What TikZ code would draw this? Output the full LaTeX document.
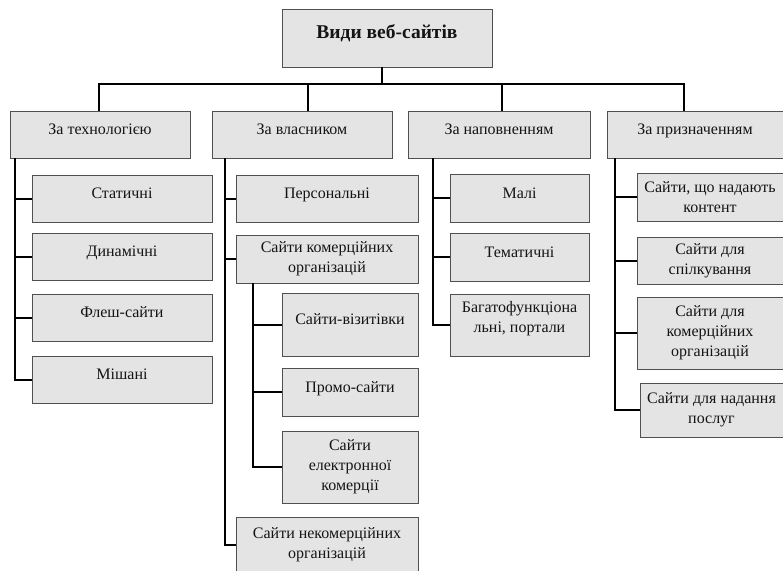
\documentclass[tikz,border=0pt]{standalone}
\usepackage{fontspec}
\setmainfont{Liberation Serif}
\usetikzlibrary{shadows}
\definecolor{boxfill}{RGB}{228,228,228}
\definecolor{boxline}{RGB}{80,80,80}
\definecolor{shadowc}{RGB}{105,105,105}
\definecolor{txt}{RGB}{20,20,20}
\tikzset{
  box/.style={draw=boxline, line width=0.8pt, fill=boxfill, rectangle, inner sep=2pt,
    align=center, text=txt, font=\fontsize{16}{20}\selectfont,
    drop shadow={shadow xshift=1.3pt, shadow yshift=-1.3pt, fill=shadowc, opacity=1}},
  one/.style={text height=10pt, text depth=10pt},
  conn/.style={draw=black, line width=2pt, line join=miter},
}
\begin{document}
\begin{tikzpicture}[x=1pt,y=-1pt]
\useasboundingbox[fill=white] (0,0) rectangle (783,570);
% root
\node[box, one, minimum width=210pt, minimum height=58pt, font=\fontsize{19.5}{23}\selectfont\bfseries] (root) at (387,38) {Види веб-сайтів};
% level 1
\node[box, one, minimum width=180pt, minimum height=47pt] (b1) at (100,134.5) {За технологією};
\node[box, one, minimum width=180pt, minimum height=47pt] (b2) at (302,134.5) {За власником};
\node[box, one, minimum width=182pt, minimum height=47pt] (b3) at (499,134.5) {За наповненням};
\node[box, one, minimum width=176pt, minimum height=47pt] (b4) at (695,134.5) {За призначенням};
% technology
\node[box, one, minimum width=180pt, minimum height=47pt] (c11) at (122,198.5) {Статичні};
\node[box, one, minimum width=180pt, minimum height=47pt] (c12) at (122,256.5) {Динамічні};
\node[box, one, minimum width=180pt, minimum height=47pt] (c13) at (122,317.5) {Флеш-сайти};
\node[box, one, minimum width=180pt, minimum height=47pt] (c14) at (122,379.5) {Мішані};
% owner
\node[box, one, minimum width=182pt, minimum height=47pt] (c21) at (327,198.5) {Персональні};
\node[box, minimum width=182pt, minimum height=48pt] (c22) at (327,259) {Сайти комерційних\\організацій};
\node[box, minimum width=182pt, minimum height=56pt] (c23) at (327,545) {Сайти некомерційних\\організацій};
\node[box, one, minimum width=136pt, minimum height=63pt] (d1) at (350,324.5) {Сайти-візитівки};
\node[box, one, minimum width=136pt, minimum height=48pt] (d2) at (350,392) {Промо-сайти};
\node[box, minimum width=136pt, minimum height=72pt] (d3) at (350,467) {Сайти\\електронної\\комерції};
% content
\node[box, one, minimum width=139pt, minimum height=48pt] (e1) at (519.5,198) {Малі};
\node[box, one, minimum width=139pt, minimum height=48pt] (e2) at (519.5,257) {Тематичні};
\node[box, minimum width=139pt, minimum height=62pt] (e3) at (519.5,325) {Багатофункціона\\льні, портали\\[-4pt]\mbox{}};
% purpose
\node[box, minimum width=146pt, minimum height=48pt] (f1) at (710,197) {Сайти, що надають\\контент};
\node[box, minimum width=146pt, minimum height=47pt] (f2) at (710,260.5) {Сайти для\\спілкування};
\node[box, minimum width=146pt, minimum height=72pt] (f3) at (710,333) {Сайти для\\комерційних\\організацій};
\node[box, minimum width=143pt, minimum height=54pt] (f4) at (711.5,410) {Сайти для надання\\послуг};
% top connectors
\draw[conn] ([xshift=-5pt]root.south) -- ++(0,17) -| ([xshift=-1pt]b1.north);
\draw[conn] ([xshift=-5pt]root.south) -- ++(0,17) -| ([xshift=6pt]b2.north);
\draw[conn] ([xshift=-5pt]root.south) -- ++(0,17) -| ([xshift=3pt]b3.north);
\draw[conn] ([xshift=-5pt]root.south) -- ++(0,17) -| ([xshift=-11pt]b4.north);
% technology connectors
\foreach \c in {c11,c12,c13,c14} \draw[conn] ([xshift=5pt]b1.south west) |- (\c.west);
% owner connectors
\foreach \c in {c21,c22,c23} \draw[conn] ([xshift=13pt]b2.south west) |- (\c.west);
\foreach \c in {d1,d2,d3} \draw[conn] ([xshift=17pt]c22.south west) |- (\c.west);
% content connectors
\foreach \c in {e1,e2,e3} \draw[conn] ([xshift=25pt]b3.south west) |- (\c.west);
% purpose connectors
\foreach \c in {f1,f2,f3,f4} \draw[conn] ([xshift=8pt]b4.south west) |- (\c.west);
\end{tikzpicture}
\end{document}
